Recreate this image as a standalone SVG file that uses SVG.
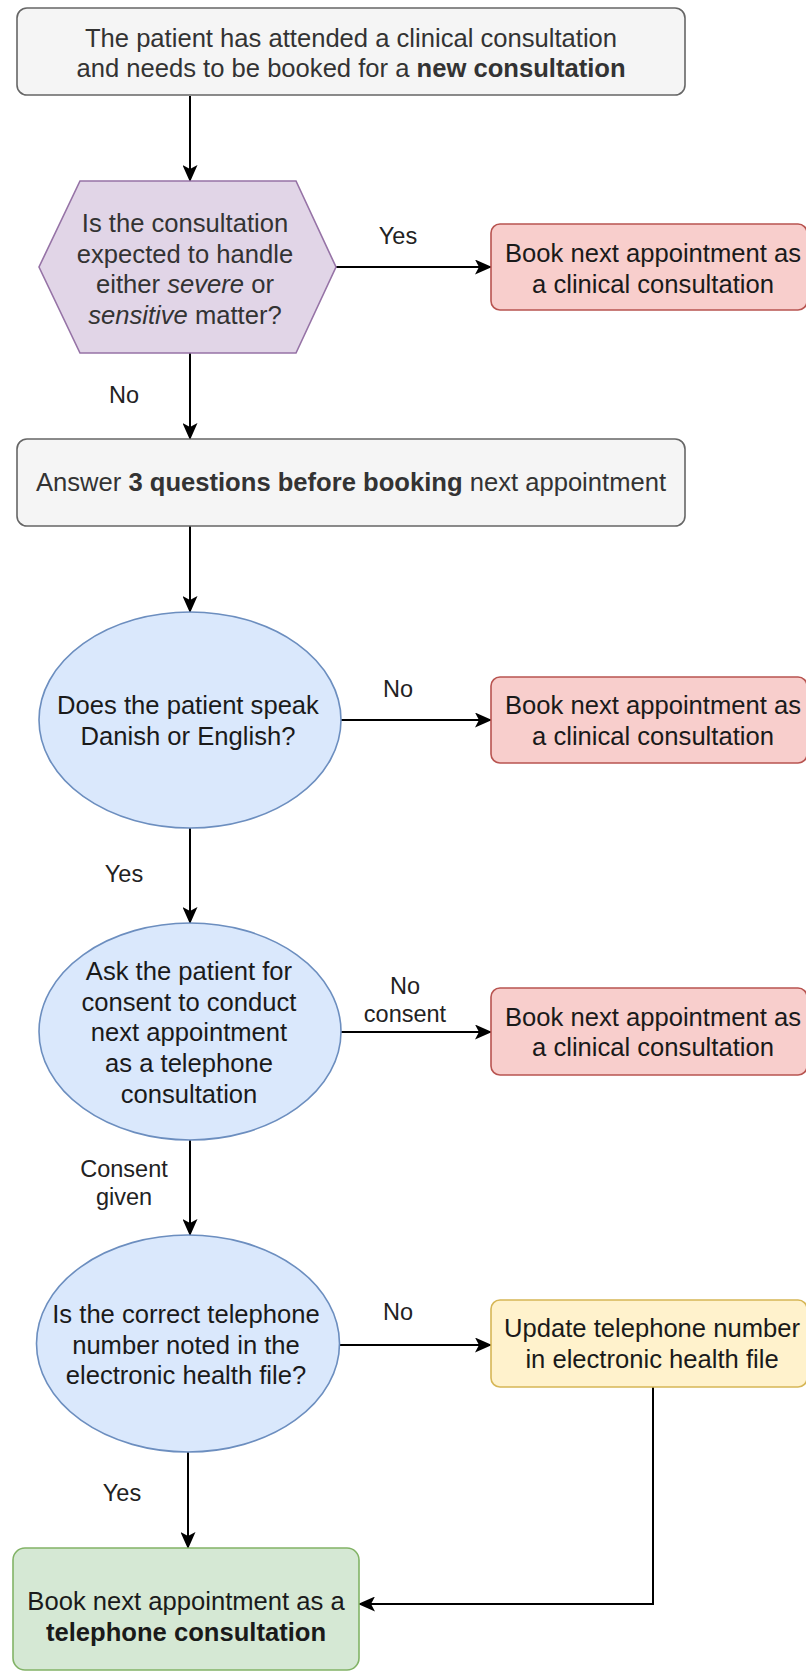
<svg xmlns="http://www.w3.org/2000/svg" width="806" height="1671" viewBox="0 0 806 1671">
<defs>
<style>
.t{font-family:"Liberation Sans",Arial,sans-serif;font-size:25.6px;text-anchor:middle;fill:#1a1a1a}
.g{fill:#333333}
.l{font-family:"Liberation Sans",Arial,sans-serif;font-size:23.5px;text-anchor:middle;fill:#222222}
.b{font-weight:bold}
.i{font-style:italic}
.gray{fill:#f5f5f5;stroke:#666666;stroke-width:1.6}
.purple{fill:#e1d5e7;stroke:#9673a6;stroke-width:1.6}
.blue{fill:#dae8fc;stroke:#6c8ebf;stroke-width:1.6}
.red{fill:#f8cecc;stroke:#b85450;stroke-width:1.6}
.yellow{fill:#fff2cc;stroke:#d6b656;stroke-width:1.6}
.green{fill:#d5e8d4;stroke:#82b366;stroke-width:1.6}
.c{fill:none;stroke:#000000;stroke-width:2;marker-end:url(#arr)}
</style>
<marker id="arr" markerUnits="userSpaceOnUse" markerWidth="17" markerHeight="15" refX="16" refY="7.5" orient="auto">
<path d="M0,0 L17,7.5 L0,15 L4,7.5 Z" fill="#000000"/>
</marker>
</defs>
<rect width="806" height="1671" fill="#ffffff"/>

<g id="connectors">
<line class="c" x1="190" y1="96" x2="190" y2="181"/>
<line class="c" x1="336" y1="267" x2="491" y2="267"/>
<line class="c" x1="190" y1="353" x2="190" y2="439"/>
<line class="c" x1="190" y1="526" x2="190" y2="612"/>
<line class="c" x1="341" y1="720" x2="491" y2="720"/>
<line class="c" x1="190" y1="827" x2="190" y2="923"/>
<line class="c" x1="341" y1="1032" x2="491" y2="1032"/>
<line class="c" x1="190" y1="1140" x2="190" y2="1235"/>
<line class="c" x1="339" y1="1345" x2="491" y2="1345"/>
<line class="c" x1="188" y1="1452" x2="188" y2="1548"/>
<polyline class="c" points="653,1387 653,1604 359,1604"/>
<text class="l" x="398" y="244">Yes</text>
<text class="l" x="124" y="403">No</text>
<text class="l" x="398" y="697">No</text>
<text class="l" x="124" y="882">Yes</text>
<text class="l" x="405" y="994">No</text>
<text class="l" x="405" y="1022">consent</text>
<text class="l" x="124" y="1177">Consent</text>
<text class="l" x="124" y="1205">given</text>
<text class="l" x="398" y="1320">No</text>
<text class="l" x="122" y="1501">Yes</text>
</g>

<g id="start">
<rect class="gray" x="17" y="8" width="668" height="87" rx="10"/>
<text class="t g" x="351" y="47">The patient has attended a clinical consultation</text>
<text class="t g" x="351" y="77">and needs to be booked for a <tspan class="b">new consultation</tspan></text>
</g>

<g id="severe">
<polygon class="purple" points="80,181 296,181 336,267 296,353 80,353 39,267"/>
<text class="t g" x="185" y="232">Is the consultation</text>
<text class="t g" x="185" y="263">expected to handle</text>
<text class="t g" x="185" y="293">either <tspan class="i">severe</tspan> or</text>
<text class="t g" x="185" y="324"><tspan class="i">sensitive</tspan> matter?</text>
</g>

<g id="clinical1">
<rect class="red" x="491" y="224" width="316" height="86" rx="9"/>
<text class="t" x="653" y="262">Book next appointment as</text>
<text class="t" x="653" y="293">a clinical consultation</text>
</g>

<g id="answer">
<rect class="gray" x="17" y="439" width="668" height="87" rx="10"/>
<text class="t g" x="351" y="491">Answer <tspan class="b">3 questions before booking</tspan> next appointment</text>
</g>

<g id="language">
<ellipse class="blue" cx="190" cy="720" rx="151" ry="108"/>
<text class="t" x="188" y="714">Does the patient speak</text>
<text class="t" x="188" y="745">Danish or English?</text>
</g>

<g id="clinical2">
<rect class="red" x="491" y="677" width="316" height="86" rx="9"/>
<text class="t" x="653" y="714">Book next appointment as</text>
<text class="t" x="653" y="745">a clinical consultation</text>
</g>

<g id="consent">
<ellipse class="blue" cx="190" cy="1031.5" rx="151" ry="108.5"/>
<text class="t" x="189" y="980">Ask the patient for</text>
<text class="t" x="189" y="1011">consent to conduct</text>
<text class="t" x="189" y="1041">next appointment</text>
<text class="t" x="189" y="1072">as a telephone</text>
<text class="t" x="189" y="1103">consultation</text>
</g>

<g id="clinical3">
<rect class="red" x="491" y="988" width="316" height="87" rx="9"/>
<text class="t" x="653" y="1026">Book next appointment as</text>
<text class="t" x="653" y="1056">a clinical consultation</text>
</g>

<g id="phone">
<ellipse class="blue" cx="188" cy="1343.5" rx="151.5" ry="108.5"/>
<text class="t" x="186" y="1323">Is the correct telephone</text>
<text class="t" x="186" y="1354">number noted in the</text>
<text class="t" x="186" y="1384">electronic health file?</text>
</g>

<g id="update">
<rect class="yellow" x="491" y="1300" width="316" height="87" rx="9"/>
<text class="t" x="652" y="1337">Update telephone number</text>
<text class="t" x="652" y="1368">in electronic health file</text>
</g>

<g id="telephone">
<rect class="green" x="13" y="1548" width="346" height="122" rx="12"/>
<text class="t" x="186" y="1610">Book next appointment as a</text>
<text class="t b" x="186" y="1641">telephone consultation</text>
</g>
</svg>
